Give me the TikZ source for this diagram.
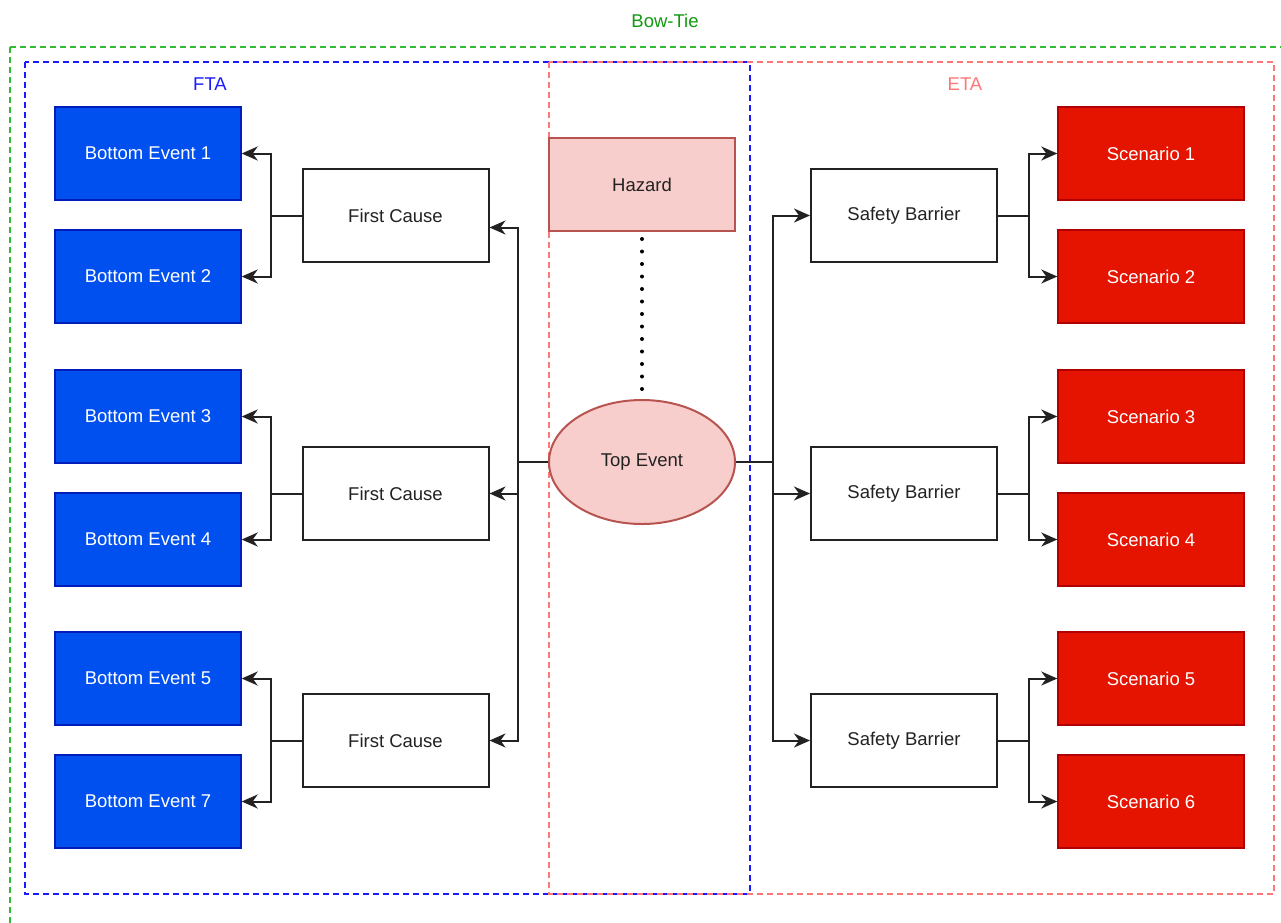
\documentclass[tikz,border=0pt]{standalone}
\usepackage{fontspec}
\setmainfont{Liberation Sans}
\usetikzlibrary{shapes.geometric,arrows.meta,calc}
\definecolor{befill}{HTML}{0050EF}
\definecolor{bestroke}{HTML}{001DBC}
\definecolor{scfill}{HTML}{E51400}
\definecolor{scstroke}{HTML}{B20000}
\definecolor{pkfill}{HTML}{F8CECC}
\definecolor{pkstroke}{HTML}{B85450}
\definecolor{grn}{HTML}{33BB33}
\definecolor{grntext}{HTML}{119911}
\definecolor{blu}{HTML}{1A1AFF}
\definecolor{redd}{HTML}{FF7777}
\definecolor{txt}{HTML}{222222}
\tikzset{
  box/.style={rectangle, minimum width=186pt, minimum height=93pt, inner sep=0pt, font=\fontsize{18.5}{22}\selectfont},
  bevent/.style={box, fill=befill, draw=bestroke, line width=1.4pt, text=white},
  scen/.style={box, fill=scfill, draw=scstroke, line width=1.4pt, text=white},
  cause/.style={box, draw=txt, line width=2pt, text=txt},
  hazardbox/.style={box, fill=pkfill, draw=pkstroke, line width=2pt, text=txt},
  topev/.style={ellipse, minimum width=186pt, minimum height=124pt, inner sep=0pt, fill=pkfill, draw=pkstroke, line width=2pt, text=txt, font=\fontsize{18.5}{22}\selectfont},
  conn/.style={line width=2pt, draw=txt},
  arr/.style={conn, -{Stealth[length=16pt,width=14pt,inset=5pt]}},
  contain/.style={line width=1.6pt, dash pattern=on 6pt off 4pt},
  lbl/.style={font=\fontsize{18.5}{22}\selectfont},
}
\begin{document}
\begin{tikzpicture}[x=1pt,y=-1pt]
\useasboundingbox (0,0) rectangle (1281,922);
\clip (0,0) rectangle (1281,922);
\fill[white] (0,0) rectangle (1281,922);
% containers
\draw[contain, draw=grn] (10,47) rectangle (1300,960);
\draw[contain, draw=blu] (25,62) rectangle (750,894);
\draw[contain, draw=redd] (549,62) rectangle (1274,894);
\node[lbl, text=grntext] (lbow) at (665,21) {Bow-Tie};
\node[lbl, text=blu] (lfta) at (210,84) {FTA};
\node[lbl, text=redd] (leta) at (965,84) {ETA};
% bottom events
\node[bevent] (be1) at (148,153.5) {Bottom Event 1};
\node[bevent] (be2) at (148,276.5) {Bottom Event 2};
\node[bevent] (be3) at (148,416.5) {Bottom Event 3};
\node[bevent] (be4) at (148,539.5) {Bottom Event 4};
\node[bevent] (be5) at (148,678.5) {Bottom Event 5};
\node[bevent] (be7) at (148,801.5) {Bottom Event 7};
% scenarios
\node[scen] (sc1) at (1151,153.5) {Scenario 1};
\node[scen] (sc2) at (1151,276.5) {Scenario 2};
\node[scen] (sc3) at (1151,416.5) {Scenario 3};
\node[scen] (sc4) at (1151,539.5) {Scenario 4};
\node[scen] (sc5) at (1151,678.5) {Scenario 5};
\node[scen] (sc6) at (1151,801.5) {Scenario 6};
% causes
\node[cause] (fc1) at (395.5,215.5) {First Cause};
\node[cause] (fc2) at (395.5,493.5) {First Cause};
\node[cause] (fc3) at (395.5,740.5) {First Cause};
% barriers
\node[cause] (sb1) at (904,215.5) {Safety Barrier};
\node[cause] (sb2) at (904,493.5) {Safety Barrier};
\node[cause] (sb3) at (904,740.5) {Safety Barrier};
% hazard and top event
\node[hazardbox] (haz) at (642,184.5) {Hazard};
\node[topev] (top) at (642,462) {Top Event};
% dotted link
\draw[line width=4pt, line cap=round, dash pattern=on 0pt off 12.5pt, draw=black] ([yshift=-7pt]haz.south) -- (top.north);
% junctions
\coordinate (jl) at (518,462);
\coordinate (jr) at (773,462);
\coordinate (j1) at ($(fc1.west)+(-31,0)$);
\coordinate (j2) at ($(fc2.west)+(-31,0)$);
\coordinate (j3) at ($(fc3.west)+(-31,0)$);
\coordinate (k1) at ($(sb1.east)+(31,0)$);
\coordinate (k2) at ($(sb2.east)+(31,0)$);
\coordinate (k3) at ($(sb3.east)+(31,0)$);
% top event to causes
\draw[conn] (top.west) -- (jl);
\draw[arr] (jl) |- ([yshift=-12pt]fc1.east);
\draw[arr] (jl) |- (fc2.east);
\draw[arr] (jl) |- (fc3.east);
% top event to barriers
\draw[conn] (top.east) -- (jr);
\draw[arr] (jr) |- (sb1.west);
\draw[arr] (jr) |- (sb2.west);
\draw[arr] (jr) |- (sb3.west);
% causes to bottom events
\draw[conn] (fc1.west) -- (j1);
\draw[arr] (j1) |- (be1.east);
\draw[arr] (j1) |- (be2.east);
\draw[conn] (fc2.west) -- (j2);
\draw[arr] (j2) |- (be3.east);
\draw[arr] (j2) |- (be4.east);
\draw[conn] (fc3.west) -- (j3);
\draw[arr] (j3) |- (be5.east);
\draw[arr] (j3) |- (be7.east);
% barriers to scenarios
\draw[conn] (sb1.east) -- (k1);
\draw[arr] (k1) |- (sc1.west);
\draw[arr] (k1) |- (sc2.west);
\draw[conn] (sb2.east) -- (k2);
\draw[arr] (k2) |- (sc3.west);
\draw[arr] (k2) |- (sc4.west);
\draw[conn] (sb3.east) -- (k3);
\draw[arr] (k3) |- (sc5.west);
\draw[arr] (k3) |- (sc6.west);
\end{tikzpicture}
\end{document}
